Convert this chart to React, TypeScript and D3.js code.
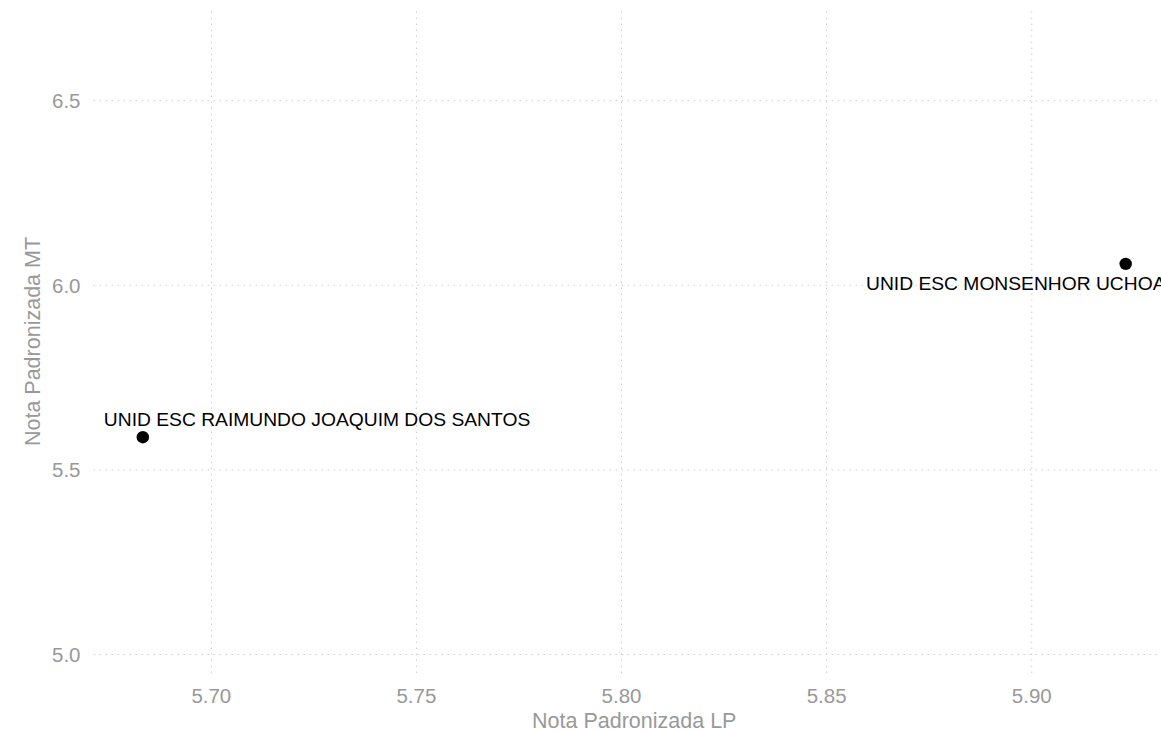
import React from "react";
import * as d3 from "d3";

const schools = ["UNID ESC RAIMUNDO JOAQUIM DOS SANTOS", "UNID ESC MONSENHOR UCHOA"];
const notaLP = [5.6833, 5.9229];
const notaMT = [5.5886, 6.058];
// label anchor (start of text, baseline) in data units, as placed by the repel layout
const labelLP = [5.6738, 5.8596];
const labelMT = [5.619, 5.9875];

const xTicks = [5.7, 5.75, 5.8, 5.85, 5.9];
const yTicks = [5.0, 5.5, 6.0, 6.5];

const W = 1161;
const H = 733;

export default function App() {
  const x = d3.scaleLinear().domain([5.6713, 5.9349]).range([93.6, 1174.9]);
  const y = d3.scaleLinear().domain([4.95, 6.7456]).range([673, 10]);
  const [x0, x1] = x.range();
  const [y0, y1] = y.range();
  const font = "'Liberation Sans', Arial, Helvetica, sans-serif";
  const grid = "#cccccc";
  const txt = "#999999";
  return (
    <div style={{ position: "absolute", left: 0, top: 0 }}>
      <svg width={W} height={H} style={{ display: "block", fontFamily: font }}>
        <rect x={0} y={0} width={W} height={H} fill="#ffffff" />
        <defs>
          <clipPath id="panel">
            <rect x={x0} y={y1} width={x1 - x0} height={y0 - y1} />
          </clipPath>
        </defs>
        <g>
          {xTicks.map((t) => (
            <line key={"gx" + t} x1={x(t)} x2={x(t)} y1={y0} y2={y1} stroke={grid} strokeWidth={1} strokeDasharray="1.5,4.5" />
          ))}
          {yTicks.map((t) => (
            <line key={"gy" + t} x1={x0} x2={x1} y1={y(t)} y2={y(t)} stroke={grid} strokeWidth={1} strokeDasharray="1.5,4.5" />
          ))}
        </g>
        <g>
          {xTicks.map((t) => (
            <text key={"tx" + t} x={x(t)} y={703} textAnchor="middle" fontSize={20.5} fill={txt}>
              {d3.format(".2f")(t)}
            </text>
          ))}
          {yTicks.map((t) => (
            <text key={"ty" + t} x={80.5} y={y(t)} dy="0.36em" textAnchor="end" fontSize={20.5} fill={txt}>
              {d3.format(".1f")(t)}
            </text>
          ))}
        </g>
        <text x={(x0 + x1) / 2} y={728} textAnchor="middle" fontSize={21.5} fill={txt}>
          Nota Padronizada LP
        </text>
        <text
          transform={`translate(${40},${(y0 + y1) / 2}) rotate(-90)`}
          textAnchor="middle"
          fontSize={21.5}
          fill={txt}
        >
          Nota Padronizada MT
        </text>
        <g clipPath="url(#panel)">
          {schools.map((s, i) => (
            <circle key={"p" + i} cx={x(notaLP[i])} cy={y(notaMT[i])} r={6.2} fill="#000000" />
          ))}
          {schools.map((s, i) => (
            <text key={"l" + i} x={x(labelLP[i])} y={y(labelMT[i])} fontSize={19.25} fill="#000000">
              {s}
            </text>
          ))}
        </g>
      </svg>
    </div>
  );
}
